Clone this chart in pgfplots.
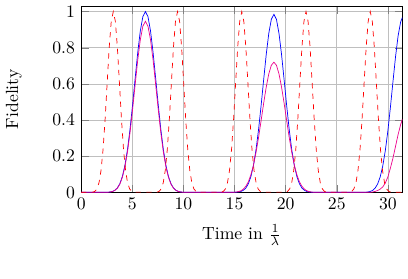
\documentclass[border=0pt]{standalone}
\usepackage{pgfplots}
\pgfplotsset{compat=1.18}
\begin{document}
\begin{tikzpicture}
\begin{axis}[
  scale only axis,
  width=182pt, height=105.5pt,
  xmin=0, xmax=31.416, ymin=0, ymax=1.03,
  xtick={0,5,10,15,20,25,30},
  ytick={0,0.2,0.4,0.6,0.8,1},
  grid=major,
  xlabel={Time in $\frac{1}{\lambda}$},
  ylabel={Fidelity},
  ylabel style={yshift=10.5pt},
  xlabel style={yshift=-1.5pt},
]
% blue
\addplot[blue, no markers] coordinates {
(0,0) (2.5332,0.0005) (2.7832,0.0016) (3.0332,0.0044) (3.2832,0.0108) (3.5332,0.0238) (3.7832,0.0479) (4.0332,0.0884) (4.2832,0.1505) (4.5332,0.2383) (4.7832,0.3519) (5.0332,0.4868) (5.2832,0.6326) (5.5332,0.7739) (5.7832,0.8926) (6.0332,0.972) (6.2832,1)
(6.5332,0.972) (6.7832,0.8926) (7.0332,0.7739) (7.2832,0.6326) (7.5332,0.4868) (7.7832,0.3519) (8.0332,0.2383) (8.2832,0.1505) (8.5332,0.0884) (8.7832,0.0479) (9.0332,0.0238) (9.2832,0.0108) (9.5332,0.0044) (9.7832,0.0016) (10.0332,0.0005) (10.5,0)
(14.8,0) (15.0996,0.0005) (15.3496,0.002) (15.5996,0.004) (15.8496,0.011) (16.0996,0.023) (16.3496,0.047) (16.5996,0.087) (16.8496,0.148) (17.0996,0.235) (17.3496,0.347) (17.5996,0.480) (17.8496,0.623) (18.0996,0.762) (18.3496,0.879) (18.5996,0.957) (18.8496,0.985)
(19.0996,0.957) (19.3496,0.879) (19.5996,0.762) (19.8496,0.623) (20.0996,0.480) (20.3496,0.347) (20.5996,0.235) (20.8496,0.148) (21.0996,0.087) (21.3496,0.047) (21.5996,0.023) (21.8496,0.011) (22.0996,0.004) (22.3496,0.002) (22.5996,0.0005) (23,0)
(27.5,0) (27.75,0.0005) (28.0,0.0016) (28.25,0.0043) (28.5,0.0105) (28.75,0.0231) (29.0,0.0465) (29.25,0.0857) (29.5,0.146) (29.75,0.231) (30.0,0.341) (30.25,0.472) (30.5,0.614) (30.75,0.751) (31.0,0.866) (31.25,0.943) (31.416,0.967)
};
% magenta
\addplot[magenta, no markers] coordinates {
(0,0) (2.5332,0.0005) (2.7832,0.0015) (3.0332,0.0042) (3.2832,0.0102) (3.5332,0.0225) (3.7832,0.045) (4.0332,0.084) (4.2832,0.142) (4.5332,0.225) (4.7832,0.333) (5.0332,0.461) (5.2832,0.598) (5.5332,0.732) (5.7832,0.844) (6.0332,0.919) (6.2832,0.946)
(6.5332,0.919) (6.7832,0.844) (7.0332,0.732) (7.2832,0.598) (7.5332,0.461) (7.7832,0.333) (8.0332,0.225) (8.2832,0.142) (8.5332,0.084) (8.7832,0.045) (9.0332,0.0225) (9.2832,0.0102) (9.5332,0.0042) (9.7832,0.0015) (10.0332,0.0005) (10.5,0)
(14.8,0) (15.0996,0.0013) (15.3496,0.0035) (15.5996,0.008) (15.8496,0.017) (16.0996,0.033) (16.3496,0.058) (16.5996,0.097) (16.8496,0.150) (17.0996,0.220) (17.3496,0.303) (17.5996,0.397) (17.8496,0.493) (18.0996,0.582) (18.3496,0.655) (18.5996,0.703) (18.8496,0.72)
(19.0996,0.703) (19.3496,0.655) (19.5996,0.582) (19.8496,0.493) (20.0996,0.397) (20.3496,0.303) (20.5996,0.220) (20.8496,0.150) (21.0996,0.097) (21.3496,0.058) (21.5996,0.033) (21.8496,0.017) (22.0996,0.008) (22.3496,0.0035) (22.5996,0.0013) (22.85,0)
(28.25,0) (28.5,0.002) (28.75,0.005) (29.0,0.01) (29.25,0.018) (29.5,0.03) (29.75,0.052) (30.0,0.085) (30.25,0.135) (30.5,0.19) (30.75,0.255) (31.0,0.32) (31.25,0.375) (31.416,0.405)
};
% red dashed
\addplot[red, dashed, no markers] coordinates {
(0,0) (1.1416,0.0011) (1.3416,0.0054) (1.5416,0.0188) (1.7416,0.0524) (1.9416,0.1211) (2.1416,0.2378) (2.3416,0.4047) (2.5416,0.6049) (2.7416,0.8013) (2.9416,0.9464) (3.1416,1) (3.3416,0.9464) (3.5416,0.8013) (3.7416,0.6049) (3.9416,0.4047) (4.1416,0.2378) (4.3416,0.1211) (4.5416,0.0524) (4.7416,0.0188) (4.9416,0.0054) (5.1416,0.0011)
(7.4248,0.0011) (7.6248,0.0054) (7.8248,0.0188) (8.0248,0.0524) (8.2248,0.1211) (8.4248,0.2378) (8.6248,0.4047) (8.8248,0.6049) (9.0248,0.8013) (9.2248,0.9464) (9.4248,1) (9.6248,0.9464) (9.8248,0.8013) (10.0248,0.6049) (10.2248,0.4047) (10.4248,0.2378) (10.6248,0.1211) (10.8248,0.0524) (11.0248,0.0188) (11.2248,0.0054) (11.4248,0.0011)
(13.708,0.0011) (13.908,0.0054) (14.108,0.0188) (14.308,0.0524) (14.508,0.1211) (14.708,0.2378) (14.908,0.4047) (15.108,0.6049) (15.308,0.8013) (15.508,0.9464) (15.708,1) (15.908,0.9464) (16.108,0.8013) (16.308,0.6049) (16.508,0.4047) (16.708,0.2378) (16.908,0.1211) (17.108,0.0524) (17.308,0.0188) (17.508,0.0054) (17.708,0.0011)
(19.9911,0.0011) (20.1911,0.0054) (20.3911,0.0188) (20.5911,0.0524) (20.7911,0.1211) (20.9911,0.2378) (21.1911,0.4047) (21.3911,0.6049) (21.5911,0.8013) (21.7911,0.9464) (21.9911,1) (22.1911,0.9464) (22.3911,0.8013) (22.5911,0.6049) (22.7911,0.4047) (22.9911,0.2378) (23.1911,0.1211) (23.3911,0.0524) (23.5911,0.0188) (23.7911,0.0054) (23.9911,0.0011)
(26.2743,0.0011) (26.4743,0.0054) (26.6743,0.0188) (26.8743,0.0524) (27.0743,0.1211) (27.2743,0.2378) (27.4743,0.4047) (27.6743,0.6049) (27.8743,0.8013) (28.0743,0.9464) (28.2743,1) (28.4743,0.9464) (28.6743,0.8013) (28.8743,0.6049) (29.0743,0.4047) (29.2743,0.2378) (29.4743,0.1211) (29.6743,0.0524) (29.8743,0.0188) (30.0743,0.0054) (30.2743,0.0011)
(31.416,0)
};
\end{axis}
\path ([yshift=-15pt]current bounding box.south);
\path ([xshift=3pt]current bounding box.east);
\end{tikzpicture}
\end{document}
